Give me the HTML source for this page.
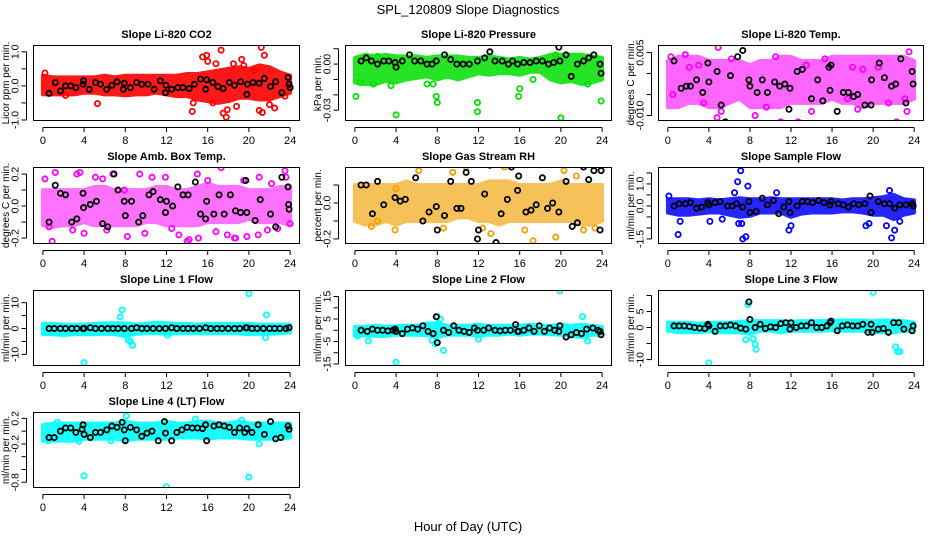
<!DOCTYPE html>
<html><head><meta charset="utf-8"><title>SPL_120809 Slope Diagnostics</title>
<style>
html,body{margin:0;padding:0;background:#fff;}
svg{display:block;font-family:"Liberation Sans",Arial,sans-serif;}
</style></head>
<body>
<svg id="chart" width="936" height="540" viewBox="0 0 936 540" xmlns="http://www.w3.org/2000/svg">
<text x="468" y="14" text-anchor="middle" font-size="13">SPL_120809  Slope Diagnostics</text>
<text x="468" y="531" text-anchor="middle" font-size="13">Hour of Day (UTC)</text>
</svg>
<script>
// ---- shared data ----
var hours = [0,1,2,3,4,5,6,7,8,9,10,11,12,13,14,15,16,17,18,19,20,21,22,23,24];
var xTicks = [0,4,8,12,16,20,24];

// Panel 1: CO2
var co2Lo = [-0.25,-0.25,-0.25,-0.25,-0.2,-0.2,-0.25,-0.25,-0.28,-0.25,-0.25,-0.2,-0.25,-0.3,-0.3,-0.4,-0.45,-0.5,-0.45,-0.35,-0.35,-0.4,-0.4,-0.3,-0.2];
var co2Hi = [0.3,0.25,0.25,0.25,0.25,0.25,0.3,0.25,0.3,0.3,0.3,0.3,0.3,0.3,0.35,0.35,0.4,0.45,0.5,0.55,0.5,0.6,0.55,0.4,0.3];
var co2OutX = [5.3,15.5,15.9,16,17.3,21.2,21.5,19.3,17.8,17.5,14.5,21,22,16.5,18.5,20.5,22.5,0.2,2.2,14.6,19.5,23.5,17.9,21.3,16.8,18.8];
var co2OutY = [-0.52,0.85,0.9,0.72,1.05,1.13,0.9,0.78,-0.92,-0.8,-0.75,-0.72,-0.55,-0.5,0.65,0.45,-0.65,0.38,-0.28,-0.5,0.6,-0.3,-0.7,-0.78,0.65,-0.6];
var co2BX = [0.6,1.2,1.7,2.2,2.7,3.2,3.9,3.95,4.5,5.1,5.6,6.2,6.7,7.2,7.8,7.9,8.5,9.1,9.6,10.2,10.8,11.4,11.9,11.95,12.5,13.1,13.6,14.2,14.7,15.3,15.8,15.9,16.5,17,17.5,18.1,18.6,19.2,19.8,19.85,20.4,21,21.5,22.1,22.6,23.2,23.8,23.9,24];
var co2BY = [-0.22,0.1,-0.15,0,0,-0.05,0.05,0.15,-0.1,0.1,0.05,-0.1,0.02,0.12,-0.1,0.08,-0.05,0.1,0.05,0.05,-0.1,0.15,-0.2,0.02,-0.1,-0.05,-0.05,-0.08,0.05,0.2,-0.1,0.18,0.1,-0.02,-0.08,0.1,0.02,0.12,-0.25,0.05,0.1,0.08,0.22,-0.02,0.12,-0.2,0.25,0.05,-0.05];

// Panel 2: Pressure
var prLo = [-0.012,-0.013,-0.013,-0.011,-0.012,-0.01,-0.009,-0.008,-0.01,-0.008,-0.01,-0.008,-0.006,-0.007,-0.006,-0.006,-0.007,-0.005,-0.005,-0.01,-0.012,-0.011,-0.013,-0.012,-0.01];
var prHi = [0.004,0.006,0.005,0.006,0.005,0.005,0.005,0.004,0.005,0.005,0.005,0.004,0.004,0.005,0.004,0.003,0.004,0.003,0.004,0.006,0.006,0.006,0.006,0.005,0.004];
var prOutX = [0.1,4,7.9,8,11.9,11.9,15.9,16,20,23.9,7,7.6,3.5,0.5,1.8,17.3,22.6,2.2,19.5];
var prOutY = [-0.021,-0.033,-0.021,-0.025,-0.025,-0.031,-0.021,-0.016,-0.035,-0.024,-0.013,-0.013,-0.014,-0.012,-0.013,-0.01,-0.013,0.005,0.006];
var prBX = [0.6,1.1,1.6,2.2,2.8,3.3,3.9,4,4.6,5.3,5.8,6.4,7,7.5,7.9,8.7,9.3,9.9,10.5,11.1,11.9,12.6,13.1,13.6,14.3,14.9,15.3,15.8,16.4,17,17.6,18.2,18.8,19.3,19.8,19.9,20.5,21,21.6,22.2,22.7,23.2,23.8,23.9];
var prBY = [0.002,0.004,0.002,0,0.002,0.002,0.001,-0.002,0.002,0.006,0.002,0.002,0,0,0.002,0.006,0.003,0,0,0,0.002,0.004,0.008,0.002,0.002,0,0.002,0,0.001,0.001,0.002,0.002,0,0.001,0.011,0.002,0.006,-0.008,0,0.002,0.004,0.006,0,-0.006];

// Panel 3: Li-820 Temp
var tpLo = [-0.008,-0.008,-0.007,-0.007,-0.008,-0.008,-0.007,-0.006,-0.008,-0.008,-0.008,-0.008,-0.007,-0.007,-0.007,-0.007,-0.006,-0.007,-0.007,-0.008,-0.007,-0.007,-0.007,-0.007,-0.006];
var tpHi = [0.003,0.004,0.004,0.004,0.003,0.003,0.003,0.003,0.002,0.003,0.003,0.004,0.004,0.003,0.003,0.003,0.004,0.004,0.004,0.004,0.004,0.004,0.004,0.004,0.003];
var tpOutX = [0.3,1.7,3,4.9,6.2,10.5,12.7,15.3,18,19,22.3,23.1,23.5,0.5,2.1,3.5,4.8,8.5,9.6,11,14,17.5,18.5,20.5,21.5,23.3,5.2,13.5];
var tpOutY = [0.004,0.0045,0.002,0.0062,0.0035,0.004,-0.0115,0.0035,0.0015,0.001,-0.0115,-0.006,0.0052,-0.005,0.0015,-0.007,-0.0105,-0.01,-0.008,-0.0115,-0.009,-0.006,-0.0085,0.0015,-0.007,-0.009,-0.009,0.002];
var tpBX = [0.6,1.3,1.8,2.2,2.8,3.4,3.9,4,4.8,5.2,5.6,6.1,6.8,7.3,7.9,8,8.7,9.2,9.7,10.4,10.9,11.4,11.8,11.9,12.6,13.1,14,14.6,15.1,15.7,15.8,15.9,16.5,17.1,17.6,18.1,18.5,19.2,19.8,19.85,20.6,21.1,21.8,22.2,22.7,23.2,23.8,23.9];
var tpBY = [0.003,-0.0035,-0.003,-0.003,-0.0015,-0.0045,0.0025,-0.002,0.0005,-0.0075,-0.0115,-0.0005,0.004,0.0055,-0.0015,-0.003,-0.0045,-0.0015,-0.0045,-0.002,-0.003,-0.0025,-0.0085,-0.0035,0.0005,0.001,-0.006,-0.0015,-0.0065,0.0015,-0.004,0.002,-0.009,-0.0045,-0.0045,-0.0055,-0.005,-0.0075,-0.0075,-0.0015,0.0025,-0.001,-0.003,-0.0025,0.0035,-0.007,0.0005,-0.0025];

// Panel 4: Amb. Box Temp
var abLo = [-0.12,-0.13,-0.12,-0.12,-0.1,-0.12,-0.12,-0.12,-0.12,-0.12,-0.1,-0.1,-0.12,-0.12,-0.12,-0.12,-0.1,-0.1,-0.1,-0.1,-0.08,-0.1,-0.1,-0.1,-0.12];
var abHi = [0.1,0.1,0.1,0.1,0.1,0.12,0.12,0.1,0.1,0.1,0.1,0.12,0.12,0.1,0.1,0.12,0.14,0.12,0.12,0.12,0.1,0.1,0.1,0.12,0.12];
var abOutX = [0.2,1.2,0.9,3.3,3.6,5.1,5.8,6.8,7.9,9.4,10.6,11.9,14,14.2,15,15.1,16,17.3,17.9,18.7,19.5,19.8,21,22.2,23.5,23.6,24,0.6,2.9,8.2,12.5,13.2,16.8,18.6,20.9,21.8,22.8,4,6.2,9.9];
var abOutY = [0.17,0.21,-0.22,0.2,0.21,0.18,0.17,0.2,0.1,0.2,0.18,0.18,-0.22,-0.21,0.2,-0.2,0.16,0.24,-0.18,-0.2,0.16,-0.19,0.18,0.14,0.22,0.18,-0.11,-0.13,-0.15,-0.19,-0.14,-0.18,-0.16,-0.2,-0.18,-0.15,-0.14,-0.17,-0.15,-0.17];
var abBX = [0.6,1.2,1.7,2.2,2.8,3.3,3.9,3.95,4.6,5.2,5.8,6.3,6.9,7.3,7.9,8,8.6,9.3,9.7,10.3,10.7,11.4,11.9,12,12.6,13.1,13.6,14.1,14.8,15.3,15.8,15.9,16.6,17.1,17.6,18.2,18.7,19.2,19.7,19.8,20.6,21.1,22.1,22.6,23.2,23.8,23.85,23.9];
var abBY = [-0.1,0.13,0.08,0.07,-0.1,-0.08,0.08,-0.01,0.01,0.03,-0.11,-0.13,0.2,0.1,0.03,-0.06,0.03,-0.1,-0.06,0.07,0.09,0.04,-0.04,0.03,0,0.12,0.07,0.07,0.15,-0.05,-0.08,0.03,-0.05,0.07,-0.05,0.07,-0.03,-0.04,0.16,-0.04,-0.09,0.04,-0.05,-0.13,0.18,0.12,0.01,-0.02];

// Panel 5: Gas Stream RH
var rhLo = [-0.1,-0.12,-0.12,-0.1,-0.12,-0.1,-0.1,-0.1,-0.1,-0.1,-0.08,-0.08,-0.1,-0.1,-0.12,-0.1,-0.1,-0.1,-0.1,-0.1,-0.1,-0.1,-0.12,-0.12,-0.1];
var rhHi = [0.1,0.1,0.1,0.1,0.1,0.12,0.1,0.1,0.1,0.1,0.1,0.1,0.1,0.12,0.12,0.12,0.1,0.1,0.1,0.1,0.12,0.1,0.1,0.1,0.1];
var rhOutX = [0.8,1.6,3.9,5.8,4,8.6,12.4,13.2,17.3,19.5,22.2,23.3,6.2,9.5,14.5,16.5,20.3,21.5,2.2,10.8];
var rhOutY = [0.23,-0.13,-0.15,0.22,0.08,-0.14,-0.14,-0.17,-0.21,-0.19,-0.15,-0.14,0.18,0.17,0.2,-0.15,0.18,0.15,-0.1,0.2];
var rhBX = [0.6,1.1,1.7,2.2,2.8,3.3,3.8,3.9,4.4,4.9,5.9,6.6,7.2,7.9,8,8.7,9.3,9.9,10.3,10.8,11.3,11.9,12,12.6,13.1,13.7,14.2,14.8,15.2,15.8,15.9,16.6,17.1,17.6,18.2,18.7,19.2,19.8,19.85,20.5,21.1,21.6,22.2,22.7,23.2,23.8,23.9];
var rhBY = [0.1,0.1,-0.06,0.12,-0.01,0.3,0.27,0.03,0.01,0.02,0.14,-0.1,-0.05,-0.02,-0.15,-0.07,0.12,-0.03,-0.03,0.17,0.12,-0.2,-0.15,0.05,0.21,-0.22,-0.06,0.02,0.2,0.07,0.15,-0.05,-0.04,-0.01,0.14,-0.03,0,-0.05,0.22,0.12,-0.13,-0.11,0.2,0.13,0.18,-0.15,0.18];

// Panel 6: Sample Flow
var sfLo = [-0.3,-0.4,-0.4,-0.35,-0.3,-0.3,-0.4,-0.5,-0.45,-0.3,-0.3,-0.3,-0.5,-0.35,-0.3,-0.3,-0.3,-0.25,-0.25,-0.3,-0.4,-0.4,-0.6,-0.4,-0.3];
var sfHi = [0.3,0.3,0.3,0.25,0.3,0.25,0.3,0.35,0.3,0.3,0.35,0.3,0.3,0.3,0.3,0.3,0.3,0.25,0.3,0.3,0.35,0.4,0.5,0.3,0.25];
var sfOutX = [0.1,1,1.2,6.8,7.1,7.3,6.5,7.2,7.6,7.8,4.1,5.3,11.8,12,19.3,19.6,21.8,21.6,22.1,22.6,10.6,6.9,21.3];
var sfOutY = [0.45,-1.3,-0.7,1.1,1.6,-1.5,0.6,-0.8,-1.4,0.9,-0.7,-0.6,-1.1,-0.9,-0.9,-0.8,-1.45,0.7,-1.1,-0.7,0.6,-0.8,-0.9];
var sfBX = [0.6,1.1,1.7,2.2,2.8,3.3,3.9,4,4.6,5.1,5.8,6.3,6.7,7.3,7.9,8,8.6,9.2,9.7,10.3,10.8,11.3,11.8,11.9,12.6,13.1,13.6,14.1,14.7,15.2,15.8,15.9,16.6,17.1,17.6,18.1,18.6,19.2,19.7,19.8,20.5,21.1,21.6,22.1,22.6,23.2,23.8,23.9];
var sfBY = [0,0.1,0.1,0.15,-0.1,-0.05,0.15,0.05,0.15,0.2,0,0,0.1,-0.05,0.2,-0.3,-0.25,0.35,0.05,0.25,-0.35,-0.05,0.2,-0.3,0,0.2,0.2,0.15,0.25,0.15,0.05,0.2,0.1,0.05,-0.05,0.1,0.05,0.1,0.45,-0.3,0.2,0.1,0.1,-0.1,0.05,0.05,0.1,0];

// Panel 7: Line 1 Flow
var l1Lo = [-2.2,-2.2,-2.5,-2.2,-2.2,-2.2,-2,-2.2,-3,-2,-1.8,-1.8,-2,-1.8,-1.8,-1.8,-1.8,-1.8,-1.8,-1.8,-2.2,-2,-2,-1.8,-1.5];
var l1Hi = [1.8,1.8,1.5,1.5,1.5,1.8,2,2,2,1.5,1.8,2.2,2,1.8,1.8,1.5,1.8,1.8,1.8,1.8,1.8,1.5,1.5,1.5,1.5];
var l1OutX = [4,7.5,7.7,8.1,8.3,8.5,8.7,20,21.7,21.6,12.1];
var l1OutY = [-13.2,4.5,7.2,-2.5,-4.5,-5,-6.5,13.5,5.3,-3.5,-2.5];
var l1BX = [0.6,1.1,1.7,2.2,2.8,3.3,3.9,4,4.6,5.1,5.7,6.3,6.8,7.3,7.9,8.6,9.1,9.6,10.1,10.7,11.3,11.9,12.5,13,13.6,14.1,14.6,15.2,15.8,16.3,16.9,17.4,18,18.6,19.1,19.7,19.8,20.3,20.8,21.4,22,22.5,23,23.6,23.9];
var l1BY = [0,0,0,0,0,0,0,0,0.3,0,0,0,0,0,0,0,0.3,0,0,0,0,0,0.3,0,0,0,0,0,0.3,0,0,0,0,0,0,0.3,0.3,0,0,0,0,0,0,0,0.3];

// Panel 8: Line 2 Flow
var l2Lo = [-2.5,-2.2,-2.5,-2.5,-2,-2,-2,-2.2,-3,-2,-2,-2,-2.5,-2,-2,-1.5,-2,-1.5,-1.5,-1.8,-2,-2.5,-3,-2,-2];
var l2Hi = [1.5,1.5,2,1.5,1.8,2,2,3,3,2,2,2,2.5,2,2,2,2,2.5,2,2,2.5,2,2.5,2,1.5];
var l2OutX = [0.3,1.3,4,7.5,7.8,8.1,8.3,8.6,19.9,22.1,22.6,12,20.9,8];
var l2OutY = [-2.5,-4.8,-14.2,-4.5,-6,3,5,-9,17.5,6,-4.8,-4,-2,6];
var l2BX = [0.6,1.2,1.7,2.2,2.7,3.2,3.7,3.9,4,4.6,5.1,5.6,6.1,6.6,7.1,7.6,7.9,8,8.6,9.1,9.6,10.1,10.6,11.1,11.6,11.9,12.5,13,13.6,14.1,14.6,15.1,15.6,15.8,15.9,16.4,16.9,17.4,17.9,18.4,18.9,19.4,19.8,19.9,20.5,21,21.5,22,22.5,23.1,23.6,23.8,23.9];
var l2BY = [0,-0.5,0.5,0,0,-0.3,0,0.5,-0.5,-1.5,0.5,1,0.5,2,-0.5,-1.5,6,-5.5,0,-1,2,0,-0.5,-1,1,0,0,1,0,-0.3,0,0,2.5,-0.5,-0.5,0,1,-0.5,2,-0.5,1,0,-0.5,2,-3,-2,-1,-1.5,0.5,1,0,-0.5,-2];

// Panel 9: Line 3 Flow
var l3Lo = [-1,-1.5,-1.5,-1.5,-1.2,-1.5,-1.5,-1.5,-2,-1,-1,-1.5,-1,-1,-1,-1,-0.8,-1,-1,-1,-1.5,-1.5,-1.5,-1,-1];
var l3Hi = [1.5,1.5,1.5,1.2,1.5,1.5,1.5,1.8,2,2,2,2,1.8,2,2,2,2.2,2.2,2.2,2.2,2,2.2,2.2,2,1.5];
var l3OutX = [4,7.8,8.3,8.5,8.6,20,22.2,22.4,22.6,7.6];
var l3OutY = [-11,7.2,-3.5,-5.2,-6.8,11,-6,-7.5,-7.5,-3.8];
var l3BX = [0.6,1.1,1.6,2.1,2.6,3.1,3.6,3.9,4,4.6,5.1,5.6,6.1,6.6,7.1,7.6,7.9,8,8.5,9,9.5,10,10.5,11,11.5,11.9,12,12.5,13,13.5,14,14.5,15,15.5,15.8,15.9,16.5,17,17.5,18,18.5,19,19.5,19.8,19.9,20.5,21,21.5,22,22.5,23,23.8,23.9];
var l3BY = [0.5,0.5,0.5,0.3,0,-0.2,-0.3,1,0.5,-1.2,0.5,0.5,0.8,0.5,-0.2,-0.5,8,2.5,0,1,-0.3,0.2,0,1.2,1.5,-0.5,1.5,0,0.5,0.5,1.5,0,0,0.5,1.5,2,-1,0.5,0.8,0.5,0.5,1,-1.5,1,-1.5,-0.5,-0.3,-1.5,1.5,1.5,-0.5,-1,0.5];

// Panel 10: Line 4 (LT) Flow
var l4Lo = [-0.15,-0.15,-0.15,-0.15,-0.12,-0.12,-0.12,-0.12,-0.15,-0.12,-0.12,-0.12,-0.12,-0.1,-0.1,-0.1,-0.12,-0.1,-0.1,-0.1,-0.12,-0.12,-0.12,-0.12,-0.1];
var l4Hi = [0.1,0.12,0.12,0.12,0.12,0.12,0.12,0.12,0.15,0.12,0.12,0.12,0.15,0.12,0.12,0.15,0.15,0.12,0.12,0.15,0.12,0.12,0.12,0.12,0.12];
var l4OutX = [4,12,20,8.1,14.8,19.3,21,0.5,1.4,3.5,6.6];
var l4OutY = [-0.7,-0.87,-0.72,0.24,0.19,0.17,-0.2,-0.15,0.14,-0.16,-0.15];
var l4BX = [0.6,1.1,1.7,2.2,2.7,3.2,3.8,3.9,4,4.6,5.1,5.6,6.2,6.7,7.2,7.7,7.9,8,8.5,9.1,9.6,10.1,10.6,11.2,11.8,11.9,12.5,13,13.5,14,14.5,15,15.5,15.8,15.9,16.6,17.1,17.6,18.1,18.6,19.1,19.6,19.8,20.3,20.9,21.5,22.1,22.6,23.1,23.8,23.9];
var l4BY = [-0.1,-0.1,0,0.05,0.05,-0.02,0.03,0.1,-0.05,-0.1,-0.02,-0.02,0.02,0.08,0.06,0.14,0.02,-0.15,0.06,0.02,-0.08,-0.03,0,-0.15,0.15,-0.03,-0.15,-0.02,0.02,0.06,0.05,0.05,0.04,0.1,-0.15,0.08,0.1,0.08,0.06,-0.02,0.05,-0.02,0.04,-0.02,0.1,-0.05,0.15,-0.12,-0.1,0.08,0.03];

// ---- panel configuration (layout + axes) ----
var panels = [
 {name:'co2', title:'Slope Li-820 CO2', ylab:'Licor ppm per min.', col:0,row:0, ylim:[-1.03,1.2], ticks:[-1,-0.5,0,0.5,1], labels:{'-1':'-1.0','0':'0.0','1':'1.0'}, color:'#ff0000', op:0.9, lo:co2Lo, hi:co2Hi, ox:co2OutX, oy:co2OutY, bx:co2BX, by:co2BY},
 {name:'pressure', title:'Slope Li-820 Pressure', ylab:'kPa per min.', col:1,row:0, ylim:[-0.037,0.0124], ticks:[-0.03,-0.02,-0.01,0,0.01], labels:{'0':'0.00','-0.03':'-0.03'}, color:'#00e000', op:0.85, lo:prLo, hi:prHi, ox:prOutX, oy:prOutY, bx:prBX, by:prBY},
 {name:'li820-temp', title:'Slope Li-820 Temp.', ylab:'degrees C per min.', col:2,row:0, ylim:[-0.0113,0.0068], ticks:[-0.01,-0.005,0,0.005], labels:{'0.005':'0.005','-0.01':'-0.010'}, color:'#ff00ff', op:0.6, lo:tpLo, hi:tpHi, ox:tpOutX, oy:tpOutY, bx:tpBX, by:tpBY},
 {name:'amb-box-temp', title:'Slope Amb. Box Temp.', ylab:'degrees C per min.', col:0,row:1, ylim:[-0.237,0.244], ticks:[-0.2,-0.1,0,0.1,0.2], labels:{'-0.2':'-0.2','0':'0.0','0.2':'0.2'}, color:'#ff00ff', op:0.55, lo:abLo, hi:abHi, ox:abOutX, oy:abOutY, bx:abBX, by:abBY},
 {name:'gas-stream-rh', title:'Slope Gas Stream RH', ylab:'percent per min.', col:1,row:1, ylim:[-0.228,0.2], ticks:[-0.2,-0.1,0,0.1], labels:{'-0.2':'-0.2','0':'0.0'}, color:'#f2a000', op:0.65, lo:rhLo, hi:rhHi, ox:rhOutX, oy:rhOutY, bx:rhBX, by:rhBY},
 {name:'sample-flow', title:'Slope Sample Flow', ylab:'ml/min per min.', col:2,row:1, ylim:[-1.73,1.77], ticks:[-1.5,-1,-0.5,0,0.5,1,1.5], labels:{'-1.5':'-1.5','0':'0.0','1':'1.0'}, color:'#0000ff', op:0.85, lo:sfLo, hi:sfHi, ox:sfOutX, oy:sfOutY, bx:sfBX, by:sfBY},
 {name:'line1-flow', title:'Slope Line 1 Flow', ylab:'ml/min per min.', col:0,row:2, ylim:[-14.5,14.9], ticks:[-10,-5,0,5,10], labels:{'-10':'-10','0':'0','10':'10'}, color:'#00ffff', op:0.9, lo:l1Lo, hi:l1Hi, ox:l1OutX, oy:l1OutY, bx:l1BX, by:l1BY},
 {name:'line2-flow', title:'Slope Line 2 Flow', ylab:'ml/min per min.', col:1,row:2, ylim:[-15.9,17.9], ticks:[-15,-10,-5,0,5,10,15], labels:{'-15':'-15','-5':'-5','5':'5','15':'15'}, color:'#00ffff', op:0.9, lo:l2Lo, hi:l2Hi, ox:l2OutX, oy:l2OutY, bx:l2BX, by:l2BY},
 {name:'line3-flow', title:'Slope Line 3 Flow', ylab:'ml/min per min.', col:2,row:2, ylim:[-12,11.7], ticks:[-10,-5,0,5,10], labels:{'-10':'-10','0':'0','5':'5'}, color:'#00ffff', op:0.9, lo:l3Lo, hi:l3Hi, ox:l3OutX, oy:l3OutY, bx:l3BX, by:l3BY},
 {name:'line4-flow', title:'Slope Line 4 (LT) Flow', ylab:'ml/min per min.', col:0,row:3, ylim:[-0.89,0.3], ticks:[-0.8,-0.6,-0.4,-0.2,0,0.2], labels:{'-0.8':'-0.8','-0.2':'-0.2','0.2':'0.2'}, color:'#00ffff', op:0.9, lo:l4Lo, hi:l4Hi, ox:l4OutX, oy:l4OutY, bx:l4BX, by:l4BY}
];
var colLeft = [33,345,658], colW = [267,267,266];
var rowTop = [45,167,290,412], rowH = [76,77,76,76];
var xlim = [-0.96,24.96];

var NS = 'http://www.w3.org/2000/svg';
var svg = document.getElementById('chart');
function mk(tag, attrs, parent){
  var e = document.createElementNS(NS, tag);
  for (var k in attrs) e.setAttribute(k, attrs[k]);
  (parent||svg).appendChild(e);
  return e;
}

panels.forEach(function(p){
  var L = colLeft[p.col], W = colW[p.col], T = rowTop[p.row], H = rowH[p.row];
  var g = mk('g', {});
  
  
  function sx(v){ return L + (v - xlim[0]) / (xlim[1] - xlim[0]) * W; }
  function sy(v){ return T + H - (v - p.ylim[0]) / (p.ylim[1] - p.ylim[0]) * H; }

  var clip = mk('clipPath', {id:'clip-' + p.name}, g);
  mk('rect', {x:L, y:T, width:W, height:H}, clip);
  var marks = mk('g', {'clip-path':'url(#clip-' + p.name + ')'}, g);

  var pts = [];
  for (var i = 0; i < hours.length; i++) pts.push(sx(hours[i]).toFixed(1) + ',' + sy(p.hi[i]).toFixed(1));
  for (var j = hours.length - 1; j >= 0; j--) pts.push(sx(hours[j]).toFixed(1) + ',' + sy(p.lo[j]).toFixed(1));
  var band = mk('polygon', {points:pts.join(' '), fill:p.color, stroke:p.color, 'stroke-width':4, 'stroke-linejoin':'round', opacity:p.op}, marks);
  
  

  for (var k = 0; k < p.ox.length; k++) {
    var c = mk('circle', {cx:sx(p.ox[k]), cy:sy(p.oy[k]), r:2.6, fill:'none', stroke:p.color, 'stroke-width':1.8}, marks);
    
    
  }
  for (var m = 0; m < p.bx.length; m++) {
    var b = mk('circle', {cx:sx(p.bx[m]), cy:sy(p.by[m]), r:2.6, fill:'none', stroke:'#000', 'stroke-width':1.8}, marks);
    
    
  }

  var fr = mk('rect', {x:L+0.5, y:T+0.5, width:W-1, height:H-1, fill:'none', stroke:'#000', 'stroke-width':1}, g);
  
  

  var tt = mk('text', {x:L + W/2, y:T - 7, 'text-anchor':'middle', 'font-size':11, 'font-weight':'bold'}, g);
  tt.textContent = p.title;
  
  

  var xa = mk('g', {}, g);
  
  
  mk('line', {x1:sx(xTicks[0]), x2:sx(xTicks[xTicks.length-1]), y1:T+H+6.5, y2:T+H+6.5, stroke:'#000'}, xa);
  xTicks.forEach(function(t){
    mk('line', {x1:sx(t), x2:sx(t), y1:T+H+6.5, y2:T+H+11, stroke:'#000'}, xa);
    var lb = mk('text', {x:sx(t), y:T+H+23, 'text-anchor':'middle', 'font-size':11}, xa);
    lb.textContent = String(t);
    
    
  });

  var ya = mk('g', {}, g);
  
  
  var ax = L - 6.5;
  mk('line', {x1:ax, x2:ax, y1:sy(p.ticks[0]), y2:sy(p.ticks[p.ticks.length-1]), stroke:'#000'}, ya);
  p.ticks.forEach(function(t){
    var y = sy(t);
    mk('line', {x1:ax-5, x2:ax, y1:y, y2:y, stroke:'#000'}, ya);
    var key = String(t);
    if (p.labels[key] !== undefined) {
      var lb = mk('text', {x:0, y:0, 'text-anchor':'middle', 'font-size':10.5, transform:'translate(' + (ax - 8) + ',' + y + ') rotate(-90)'}, ya);
      lb.textContent = p.labels[key];
      
      
    }
  });
  var yl = mk('text', {x:0, y:0, 'text-anchor':'middle', 'font-size':10, transform:'translate(' + (L - 24) + ',' + (T + H/2) + ') rotate(-90)'}, g);
  yl.textContent = p.ylab;
  
  
});
</script>
</body></html>
